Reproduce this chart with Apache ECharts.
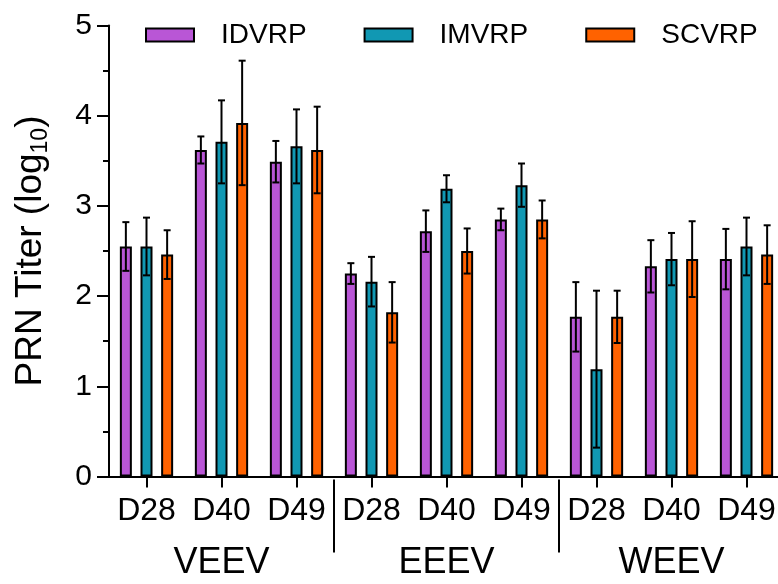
<!DOCTYPE html>
<html>
<head>
<meta charset="utf-8">
<script src="https://cdn.jsdelivr.net/npm/echarts@6/dist/echarts.min.js"></script>
<style>html,body{margin:0;padding:0;background:#fff}#c{width:778px;height:584px}</style>
</head>
<body>
<div id="c"></div>
<script>
const categories = ['D28','D40','D49','D28','D40','D49','D28','D40','D49'];
const groups = ['VEEV','EEEV','WEEV'];
const seriesNames = ['IDVRP','IMVRP','SCVRP'];
const IDVRP = [2.55, 3.62, 3.49, 2.25, 2.72, 2.85, 1.77, 2.33, 2.41];
const IDVRP_err = [0.27, 0.15, 0.23, 0.115, 0.23, 0.12, 0.385, 0.29, 0.335];
const IMVRP = [2.55, 3.71, 3.66, 2.16, 3.19, 3.23, 1.19, 2.41, 2.55];
const IMVRP_err = [0.32, 0.46, 0.41, 0.275, 0.15, 0.24, 0.87, 0.29, 0.32];
const SCVRP = [2.46, 3.92, 3.62, 1.82, 2.50, 2.85, 1.77, 2.41, 2.46];
const SCVRP_err = [0.27, 0.69, 0.48, 0.335, 0.25, 0.21, 0.29, 0.42, 0.325];
const yTicks = [0, 1, 2, 3, 4, 5];

const colors = ['#B956D6', '#1198B3', '#FF6200'];
const values = [IDVRP, IMVRP, SCVRP];
const errs = [IDVRP_err, IMVRP_err, SCVRP_err];
const FONT = 'Liberation Sans, Arial, sans-serif';
const BAR_W = 12, BAR_GAP = 0.72;
const spacing = BAR_W * (1 + BAR_GAP);

const chart = echarts.init(document.getElementById('c'), null, {renderer: 'canvas'});

const series = [];
seriesNames.forEach((n, i) => {
  series.push({
    name: n, type: 'bar', xAxisIndex: 0, yAxisIndex: 0,
    data: values[i], barWidth: BAR_W, barGap: (BAR_GAP * 100) + '%',
    itemStyle: {color: colors[i], borderColor: '#000', borderWidth: 2},
    emphasis: {disabled: true}, z: 2
  });
});
seriesNames.forEach((n, i) => {
  series.push({
    name: n + ' err', type: 'custom', xAxisIndex: 0, yAxisIndex: 0, z: 5,
    data: values[i].map((v, k) => [k, v, errs[i][k]]),
    encode: {x: 0, y: 1},
    renderItem: function (params, api) {
      const x = api.value(0), v = api.value(1), e = api.value(2);
      const t = api.coord([x, v + e]);
      const b = api.coord([x, v - e]);
      const cx = t[0] + (i - 1) * spacing;
      const cap = 3.5;
      const st = {stroke: '#000', lineWidth: 2};
      return {
        type: 'group',
        children: [
          {type: 'line', shape: {x1: cx, y1: t[1], x2: cx, y2: b[1]}, style: st},
          {type: 'line', shape: {x1: cx - cap, y1: t[1], x2: cx + cap, y2: t[1]}, style: st},
          {type: 'line', shape: {x1: cx - cap, y1: b[1], x2: cx + cap, y2: b[1]}, style: st}
        ]
      };
    }
  });
});

chart.setOption({
  animation: false,
  backgroundColor: '#fff',
  textStyle: {fontFamily: FONT, color: '#000'},
  legend: {
    data: seriesNames, left: 140, top: 16, itemWidth: 48, itemHeight: 13, itemGap: 57,
    icon: 'rect',
    textStyle: {fontSize: 28, color: '#000', fontFamily: FONT, padding: [0, 0, 0, 22]},
    itemStyle: {borderColor: '#000', borderWidth: 2}
  },
  grid: {left: 109, top: 25.5, width: 675, height: 451, outerBoundsMode: 'none'},
  xAxis: [
    {
      type: 'category', data: categories, position: 'bottom',
      axisLine: {show: true, lineStyle: {color: '#000', width: 2}},
      axisTick: {show: true, alignWithLabel: true, length: 11, lineStyle: {color: '#000', width: 2}},
      axisLabel: {fontSize: 32, color: '#000', fontFamily: FONT, margin: 19, interval: 0}
    },
    {
      type: 'category', data: groups, position: 'bottom', offset: 3,
      axisLine: {show: false},
      axisTick: {show: true, length: 73, interval: function (idx) { return idx > 0; }, lineStyle: {color: '#000', width: 2}},
      axisLabel: {fontSize: 36, color: '#000', fontFamily: FONT, margin: 66, interval: 0}
    }
  ],
  yAxis: {
    type: 'value', min: yTicks[0], max: yTicks[yTicks.length - 1], interval: 1,
    name: '{a|PRN Titer (log}{b|10}{a|)}', nameLocation: 'middle', nameGap: 57, nameRotate: 90,
    nameTextStyle: {
      rich: {
        a: {fontSize: 37, fontFamily: FONT, color: '#000', lineHeight: 42},
        b: {fontSize: 23, fontFamily: FONT, color: '#000', lineHeight: 23, padding: [19, 0, 0, 0]}
      }
    },
    axisLine: {show: true, lineStyle: {color: '#000', width: 2}},
    axisTick: {show: true, length: 12, lineStyle: {color: '#000', width: 2}},
    minorTick: {show: true, splitNumber: 2, length: 6, lineStyle: {color: '#000', width: 2}},
    splitLine: {show: false},
    axisLabel: {fontSize: 30, color: '#000', fontFamily: FONT, margin: 17}
  },
  series: series
});
</script>
</body>
</html>
